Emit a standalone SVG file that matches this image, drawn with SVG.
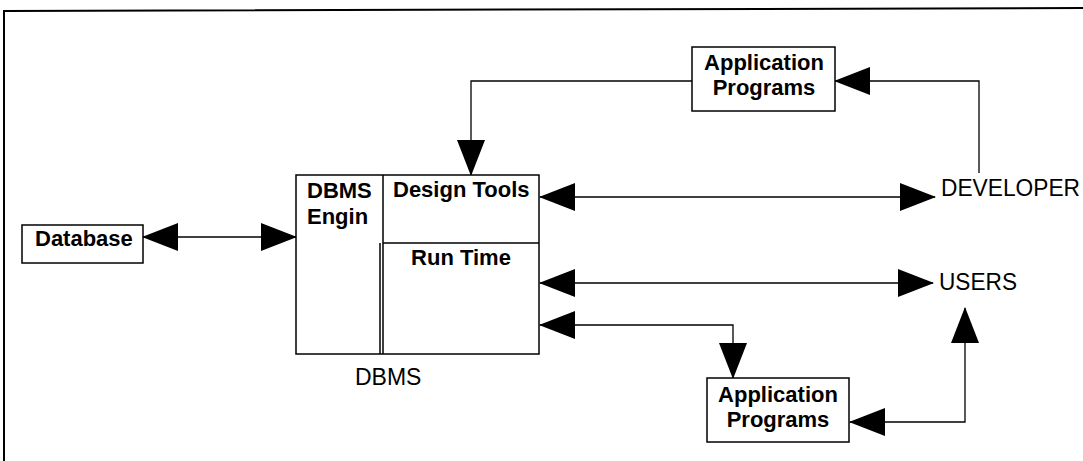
<svg xmlns="http://www.w3.org/2000/svg" width="1083" height="461" viewBox="0 0 1083 461">
<style>
.box{fill:#fff;stroke:#000;stroke-width:1.5}
.b{font-family:"Liberation Sans",Arial,sans-serif;font-weight:bold;font-size:22px;fill:#000}
.n{font-family:"Liberation Sans",Arial,sans-serif;font-size:23px;fill:#000}
.c{fill:none;stroke:#000;stroke-width:1.3}
</style>
<defs>
<marker id="ah" markerUnits="userSpaceOnUse" markerWidth="36" markerHeight="28" viewBox="0 0 36 28" refX="35" refY="14" orient="auto-start-reverse">
<path d="M0,0 L36,14 L0,28 z" fill="#000"/>
</marker>
</defs>
<rect width="1083" height="461" fill="#fff"/>
<g id="frame">
<path d="M4,461 V11 L1083,8" fill="none" stroke="#000" stroke-width="2"/>
</g>
<g id="connectors">
<path class="c" d="M143,237 H296" marker-start="url(#ah)" marker-end="url(#ah)"/>
<path class="c" d="M540,197 H935" marker-start="url(#ah)" marker-end="url(#ah)"/>
<path class="c" d="M540,283 H933" marker-start="url(#ah)" marker-end="url(#ah)"/>
<path class="c" d="M540,325 H733 V378" marker-start="url(#ah)" marker-end="url(#ah)"/>
<path class="c" d="M850,422 H965 V308" marker-start="url(#ah)" marker-end="url(#ah)"/>
<path class="c" d="M979,173 V81 H835" marker-end="url(#ah)"/>
<path class="c" d="M692,81 H471 V175" marker-end="url(#ah)"/>
</g>
<g id="database">
<rect class="box" x="22" y="225" width="121" height="38"/>
<text class="b" x="35" y="246">Database</text>
</g>
<g id="dbms">
<rect class="box" x="296" y="175" width="243" height="179"/>
<path d="M383,175 V354 M380,243 V354 M383,243 H539" fill="none" stroke="#000" stroke-width="1.5"/>
<text class="b" x="307" y="198">DBMS</text>
<text class="b" x="307" y="224">Engin</text>
<text class="b" x="393" y="197">Design Tools</text>
<text class="b" x="461" y="265" text-anchor="middle">Run Time</text>
</g>
<g id="dbms-label">
<text class="n" x="355" y="385">DBMS</text>
</g>
<g id="app-top">
<rect class="box" x="692" y="47" width="143" height="64"/>
<text class="b" x="764" y="70" text-anchor="middle">Application</text>
<text class="b" x="764" y="95" text-anchor="middle">Programs</text>
</g>
<g id="app-bottom">
<rect class="box" x="707" y="378" width="142" height="64"/>
<text class="b" x="778" y="402" text-anchor="middle">Application</text>
<text class="b" x="778" y="427" text-anchor="middle">Programs</text>
</g>
<g id="developer">
<text class="n" x="941" y="196" font-size="25" textLength="139" lengthAdjust="spacingAndGlyphs">DEVELOPER</text>
</g>
<g id="users">
<text class="n" x="939" y="290" font-size="25" textLength="78" lengthAdjust="spacingAndGlyphs">USERS</text>
</g>
</svg>
